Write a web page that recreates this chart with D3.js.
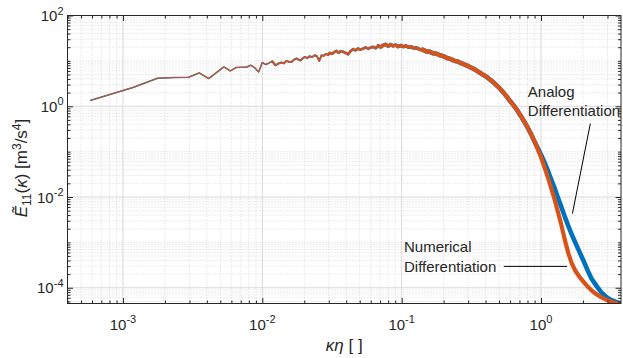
<!DOCTYPE html>
<html>
<head>
<meta charset="utf-8">
<script src="https://cdn.jsdelivr.net/npm/d3@7"></script>
<style>
  body { margin: 0; background: #fff; }
  text { font-family: "Liberation Sans", Arial, sans-serif; fill: #262626; }
</style>
</head>
<body>
<div class="canvas"></div>
<script>
// wavenumber / spectrum values
// low and mid wavenumbers: both signals practically coincide
const kShared = [
  5.89e-4, 1.18e-3, 1.77e-3, 2.36e-3, 2.95e-3, 3.53e-3, 4.12e-3, 5.30e-3, 5.89e-3, 6.48e-3,
  7.07e-3, 7.66e-3, 8.25e-3, 8.84e-3, 9.42e-3, 1.00e-2, 1.06e-2, 1.12e-2, 1.18e-2, 1.24e-2,
  1.30e-2, 1.37e-2, 1.43e-2, 1.49e-2, 1.55e-2, 1.62e-2, 1.68e-2, 1.76e-2, 1.82e-2, 1.88e-2,
  1.95e-2, 2.02e-2, 2.10e-2, 2.19e-2, 2.27e-2, 2.38e-2, 2.47e-2, 2.56e-2, 2.66e-2, 2.76e-2,
  2.86e-2, 2.96e-2, 3.05e-2, 3.16e-2, 3.28e-2, 3.41e-2, 3.52e-2, 3.66e-2, 3.80e-2, 3.96e-2,
  4.13e-2, 4.30e-2, 4.49e-2, 4.66e-2, 4.86e-2, 5.05e-2, 5.30e-2, 5.52e-2, 5.76e-2, 6.00e-2,
  6.25e-2, 6.52e-2, 6.80e-2, 7.08e-2, 7.37e-2, 7.68e-2, 8.00e-2, 8.34e-2, 8.69e-2, 9.05e-2,
  9.43e-2, 9.83e-2, 0.1025, 0.107, 0.112, 0.117, 0.122, 0.128, 0.135, 0.142,
  0.150, 0.158, 0.167, 0.177, 0.188, 0.199, 0.211, 0.224, 0.238, 0.252,
  0.267, 0.283, 0.300, 0.318, 0.337, 0.357, 0.378, 0.400, 0.424, 0.449,
  0.476, 0.504, 0.534, 0.566, 0.600, 0.636, 0.674, 0.714, 0.757, 0.802,
  0.850, 0.900
];
const eShared = [
  1.36, 2.59, 4.14, 4.29, 4.37, 5.42, 4.08, 7.36, 6.0, 7.13,
  7.2, 7.24, 8.02, 7.0, 5.7, 9.2, 8.3, 9.0, 9.8, 8.0,
  8.7, 9.2, 8.8, 10.0, 9.6, 9.5, 10.5, 11.3, 10.6, 10.2,
  11.4, 12.2, 11.5, 12.7, 12.1, 13.3, 12.6, 10.0, 13.3, 12.9,
  14.3, 13.6, 15.0, 14.3, 15.6, 16.6, 15.1, 16.3, 15.8, 15.0,
  14.0, 16.4, 18.1, 17.0, 18.7, 17.6, 18.7, 19.8, 18.4, 19.8,
  20.3, 19.0, 21.4, 20.2, 22.1, 23.2, 21.0, 22.8, 21.4, 22.3,
  20.6, 21.8, 20.6, 21.3, 20.0, 20.5, 19.2, 19.4, 17.8, 17.6,
  16.2, 16.0, 14.8, 14.4, 13.3, 12.7, 11.6, 11.0, 10.1, 9.7,
  8.9, 8.3, 7.7, 7.0, 6.4, 5.7, 5.1, 4.6, 4.0, 3.5,
  2.95, 2.5, 2.05, 1.65, 1.3, 1.05, 0.82, 0.62, 0.46, 0.34,
  0.24, 0.165
];
// dissipation range: the two signals separate
const kTail = [
  0.900, 0.95, 1.00, 1.06, 1.12, 1.18, 1.25, 1.32, 1.40, 1.48,
  1.57, 1.66, 1.76, 1.87, 2.0, 2.15, 2.3, 2.5, 2.7, 2.95,
  3.2, 3.5, 3.75
];
const eNumericalTail = [
  0.165, 0.112, 0.075, 0.045, 0.027, 0.016, 9.0e-3, 4.8e-3, 2.4e-3, 1.15e-3,
  5.8e-4, 3.5e-4, 2.4e-4, 1.8e-4, 1.4e-4, 1.08e-4, 8.8e-5, 7.2e-5, 6.2e-5, 5.4e-5,
  4.9e-5, 4.5e-5, 4.3e-5
];
const eAnalogTail = [
  0.165, 0.118, 0.085, 0.058, 0.038, 0.025, 0.016, 9.8e-3, 6.0e-3, 3.7e-3,
  2.3e-3, 1.5e-3, 1.0e-3, 6.6e-4, 4.2e-4, 2.5e-4, 1.6e-4, 1.1e-4, 8.0e-5, 6.2e-5,
  5.3e-5, 4.8e-5, 4.5e-5
];
const xTickExps = [-3, -2, -1, 0];
const yTickExps = [-4, -2, 0, 2];

const width = 623, height = 358;
const margin = {top: 15.5, right: 2, bottom: 54.5, left: 67.5};
const graphWidth = width - margin.left - margin.right;
const graphHeight = height - margin.top - margin.bottom;

const svg = d3.select(".canvas")
              .append("svg")
              .attr("width", width)
              .attr("height", height);

const graph = svg.append("g")
                 .attr("transform", `translate(${margin.left},${margin.top})`);

const x = d3.scaleLog().domain([4.0e-4, 3.75]).range([0, graphWidth]);
const y = d3.scaleLog().domain([4.5e-5, 100]).range([graphHeight, 0]);

// tick positions on a log axis: 1..9 x 10^n inside the domain
function logSteps(scale) {
  const [a, b] = scale.domain();
  const out = [];
  for (let e = Math.floor(Math.log10(a)); e <= Math.ceil(Math.log10(b)); e++) {
    for (let m = 1; m <= 9; m++) {
      const v = m * Math.pow(10, e);
      if (v >= a * 0.999 && v <= b * 1.001) out.push(+v.toPrecision(3));
    }
  }
  return out;
}
const xMajor = xTickExps.map(e => Math.pow(10, e));
const yMajor = yTickExps.map(e => Math.pow(10, e));
const isMaj = (v, list) => list.some(m => Math.abs(v / m - 1) < 1e-6);
const xMinor = logSteps(x).filter(v => !isMaj(v, xMajor));
const yMinor = logSteps(y).filter(v => !isMaj(v, yMajor));

// grid
const grid = graph.append("g");
grid.selectAll(".xmin").data(xMinor).enter().append("line")
    .attr("x1", d => x(d)).attr("x2", d => x(d)).attr("y1", 0).attr("y2", graphHeight)
    .attr("stroke", "#c8c8c8").attr("stroke-width", 0.7).attr("stroke-dasharray", "1,2");
grid.selectAll(".ymin").data(yMinor).enter().append("line")
    .attr("y1", d => y(d)).attr("y2", d => y(d)).attr("x1", 0).attr("x2", graphWidth)
    .attr("stroke", "#c8c8c8").attr("stroke-width", 0.7).attr("stroke-dasharray", "1,2");
grid.selectAll(".xmaj").data(xMajor).enter().append("line")
    .attr("x1", d => x(d)).attr("x2", d => x(d)).attr("y1", 0).attr("y2", graphHeight)
    .attr("stroke", "#d9d9d9").attr("stroke-width", 1);
grid.selectAll(".ymaj").data(yMajor).enter().append("line")
    .attr("y1", d => y(d)).attr("y2", d => y(d)).attr("x1", 0).attr("x2", graphWidth)
    .attr("stroke", "#d9d9d9").attr("stroke-width", 1);

// curves
svg.append("defs").append("clipPath").attr("id", "clip")
   .append("rect").attr("width", graphWidth).attr("height", graphHeight);
const plot = graph.append("g").attr("clip-path", "url(#clip)");

const analog = kShared.map((k, i) => [k, eShared[i]])
  .concat(kTail.slice(1).map((k, i) => [k, eAnalogTail[i + 1]]));
const numerical = kShared.map((k, i) => [k, eShared[i]])
  .concat(kTail.slice(1).map((k, i) => [k, eNumericalTail[i + 1]]));

const line = d3.line().x(d => x(d[0])).y(d => y(d[1]));
// the measured spectrum gets denser (and noisier) with k -> thicker trace
const widths = [[0, 0.0124, 1.1], [0.0124, 0.03, 1.6], [0.03, 0.07, 2.3], [0.07, 0.15, 3.2], [0.15, 10, 4.2]];

function drawSeries(pts, color, extra) {
  widths.forEach(([lo, hi, w]) => {
    const seg = pts.filter((p, i) => p[0] <= hi && (p[0] >= lo || (pts[i + 1] && pts[i + 1][0] >= lo)));
    plot.append("path").datum(seg)
        .attr("d", line)
        .attr("fill", "none")
        .attr("stroke", color)
        .attr("stroke-width", w + extra)
        .attr("stroke-linejoin", "round")
        .attr("stroke-linecap", "round");
  });
}
drawSeries(analog, "#0072BD", 0.4);
drawSeries(numerical, "#D95319", 0);

// axes: ticks pointing inward on all four sides
const axisCol = "#262626";
function ticks(gen, vals, size, tr) {
  graph.append("g").attr("transform", tr)
       .call(gen.tickValues(vals).tickSize(-size).tickFormat(""))
       .call(g => g.select(".domain").remove())
       .call(g => g.selectAll("line").attr("stroke", axisCol));
}
ticks(d3.axisBottom(x), xMajor, 5.5, `translate(0,${graphHeight})`);
ticks(d3.axisBottom(x), xMinor, 3, `translate(0,${graphHeight})`);
ticks(d3.axisTop(x), xMajor, 5.5, "translate(0,0)");
ticks(d3.axisTop(x), xMinor, 3, "translate(0,0)");
ticks(d3.axisLeft(y), yMajor, 5.5, "translate(0,0)");
ticks(d3.axisLeft(y), yMinor, 3, "translate(0,0)");
ticks(d3.axisRight(y), yMajor, 5.5, `translate(${graphWidth},0)`);
ticks(d3.axisRight(y), yMinor, 3, `translate(${graphWidth},0)`);

graph.append("rect").attr("width", graphWidth).attr("height", graphHeight)
     .attr("fill", "none").attr("stroke", axisCol).attr("stroke-width", 1);

// tick labels 10^n
function powLabel(sel, e) {
  sel.append("tspan").text("10");
  sel.append("tspan").attr("dy", -6.5).attr("font-size", 11).text(e);
}
xTickExps.forEach(e => {
  graph.append("text")
       .attr("x", x(Math.pow(10, e)))
       .attr("y", graphHeight + 26)
       .attr("text-anchor", "middle")
       .attr("font-size", 15)
       .call(powLabel, e);
});
yTickExps.forEach(e => {
  graph.append("text")
       .attr("x", -4)
       .attr("y", y(Math.pow(10, e)) + 5.5)
       .attr("text-anchor", "end")
       .attr("font-size", 15)
       .call(powLabel, e);
});

// axis labels
const serif = "'Liberation Serif', 'Times New Roman', serif";
const xl = svg.append("text")
   .attr("x", margin.left + graphWidth / 2)
   .attr("y", 351)
   .attr("text-anchor", "middle")
   .attr("font-family", serif)
   .attr("font-size", 17);
xl.append("tspan").attr("font-style", "italic").text("κη");
xl.append("tspan").text(" [ ]");

const yl = svg.append("text")
   .attr("transform", "translate(27,168) rotate(-90)")
   .attr("text-anchor", "middle")
   .attr("font-family", serif)
   .attr("font-size", 17);
yl.append("tspan").attr("font-style", "italic").text("Ẽ");
yl.append("tspan").attr("font-size", 12).attr("dy", 4).text("11");
yl.append("tspan").attr("dy", -4).text("(");
yl.append("tspan").attr("font-style", "italic").text("κ");
yl.append("tspan").text(") [m");
yl.append("tspan").attr("font-size", 12).attr("dy", -6).text("3");
yl.append("tspan").attr("dy", 6).text("/s");
yl.append("tspan").attr("font-size", 12).attr("dy", -6).text("4");
yl.append("tspan").attr("dy", 6).text("]");

// annotations, placed in data coordinates
const notes = graph.append("g");
notes.append("text").attr("x", x(0.804)).attr("y", y(1.58)).attr("font-size", 15).attr("fill", "#000")
     .text("Analog");
notes.append("text").attr("x", x(0.804)).attr("y", y(1.58) + 18.5).attr("font-size", 15).attr("fill", "#000")
     .text("Differentiation");
notes.append("line")
     .attr("x1", x(2.26)).attr("y1", y(0.416))
     .attr("x2", x(1.68)).attr("y2", y(4.3e-3))
     .attr("stroke", "#000").attr("stroke-width", 1);

notes.append("text").attr("x", x(0.104)).attr("y", y(6.1e-4)).attr("font-size", 15).attr("fill", "#000")
     .text("Numerical");
notes.append("text").attr("x", x(0.104)).attr("y", y(6.1e-4) + 20).attr("font-size", 15).attr("fill", "#000")
     .text("Differentiation");
notes.append("line")
     .attr("x1", x(0.541)).attr("y1", y(2.96e-4))
     .attr("x2", x(1.54)).attr("y2", y(2.96e-4))
     .attr("stroke", "#000").attr("stroke-width", 1);
</script>
</body>
</html>
